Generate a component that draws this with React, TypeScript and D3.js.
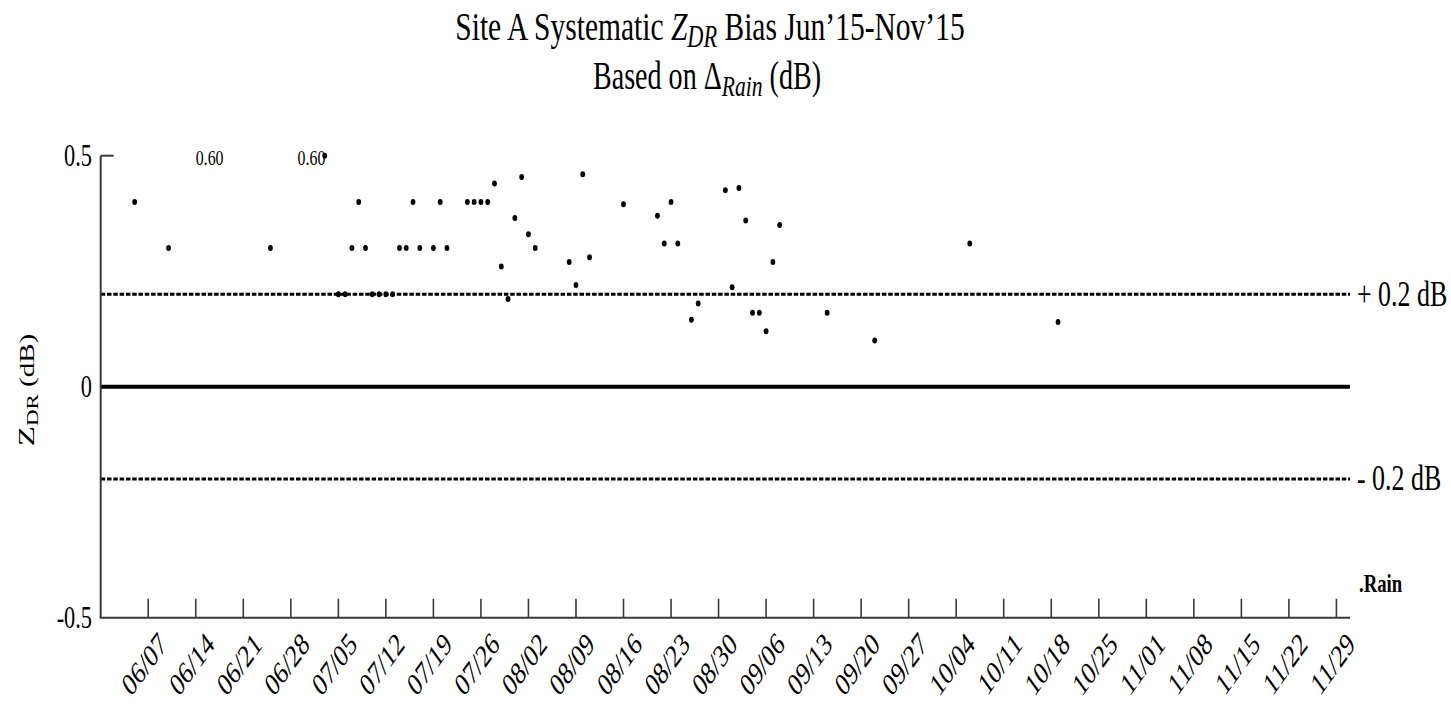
import React from "react";
import * as d3 from "d3";

// Daily systematic ZDR bias estimates (dB), Jun–Nov 2015
const pointDates = [
  "2015-06-05", "2015-06-10", "2015-06-25", "2015-07-03", "2015-07-05", "2015-07-06",
  "2015-07-07", "2015-07-08", "2015-07-09", "2015-07-10", "2015-07-11", "2015-07-12",
  "2015-07-13", "2015-07-14", "2015-07-15", "2015-07-16", "2015-07-17", "2015-07-19",
  "2015-07-20", "2015-07-21", "2015-07-24", "2015-07-25", "2015-07-26", "2015-07-27",
  "2015-07-28", "2015-07-29", "2015-07-30", "2015-07-31", "2015-08-01", "2015-08-02",
  "2015-08-03", "2015-08-08", "2015-08-09", "2015-08-10", "2015-08-11", "2015-08-16",
  "2015-08-21", "2015-08-22", "2015-08-23", "2015-08-24", "2015-08-26", "2015-08-27",
  "2015-08-31", "2015-09-01", "2015-09-02", "2015-09-03", "2015-09-04", "2015-09-05",
  "2015-09-06", "2015-09-07", "2015-09-08", "2015-09-15", "2015-09-22", "2015-10-06",
  "2015-10-19",
];
const zdrBias = [
  0.40, 0.30, 0.30, 0.50, 0.20, 0.20,
  0.30, 0.40, 0.30, 0.20, 0.20, 0.20,
  0.20, 0.30, 0.30, 0.40, 0.30, 0.30,
  0.40, 0.30, 0.40, 0.40, 0.40, 0.40,
  0.44, 0.26, 0.19, 0.365, 0.454, 0.33,
  0.30, 0.27, 0.22, 0.46, 0.28, 0.395,
  0.37, 0.31, 0.40, 0.31, 0.145, 0.18,
  0.425, 0.215, 0.43, 0.36, 0.16, 0.16,
  0.12, 0.27, 0.35, 0.16, 0.10, 0.31,
  0.14,
];

// Off-scale values, written at the top of the axes
const clippedDates = ["2015-06-14", "2015-06-29"];
const clippedLabels = ["0.60", "0.60"];

const tickLabels = [
  "06/07", "06/14", "06/21", "06/28", "07/05", "07/12", "07/19", "07/26", "08/02",
  "08/09", "08/16", "08/23", "08/30", "09/06", "09/13", "09/20", "09/27", "10/04",
  "10/11", "10/18", "10/25", "11/01", "11/08", "11/15", "11/22", "11/29",
];
const yTicks = [0.5, 0, -0.5];
const yTickLabels = ["0.5", "0", "-0.5"];
const thresholds = [0.2, -0.2];
const thresholdLabels = ["+ 0.2 dB", "- 0.2 dB"];

const parse = d3.timeParse("%Y-%m-%d");
const SX = 0.72; // horizontal squeeze of all lettering
const FONT = "'Liberation Serif', 'Times New Roman', serif";

function SText({ x, y, rotate = 0, size, anchor = "start", weight = "normal", baseline, children }: any) {
  return (
    <text
      transform={`translate(${x},${y}) scale(${SX},1) rotate(${rotate})`}
      fontFamily={FONT}
      fontSize={size}
      fontWeight={weight}
      textAnchor={anchor}
      dominantBaseline={baseline}
      fill="#000"
    >
      {children}
    </text>
  );
}

export default function App() {
  const W = 1451;
  const H = 704;
  const left = 100.7;
  const right = 1350;
  const top = 155.7;
  const bottom = 617.7;

  const x = d3
    .scaleTime()
    .domain([parse("2015-05-31")!, parse("2015-12-01")!])
    .range([left, right]);
  const y = d3.scaleLinear().domain([-0.5, 0.5]).range([bottom, top]);

  const tickDates = tickLabels.map((t) => parse(`2015-${t.replace("/", "-")}`)!);

  return (
    <svg
      width={W}
      height={H}
      viewBox={`0 0 ${W} ${H}`}
      style={{ position: "absolute", left: 0, top: 0, background: "#fff" }}
    >
      <rect width={W} height={H} fill="#fff" />

      {/* title */}
      <text
        transform={`translate(710,40) scale(${SX},1)`}
        fontFamily={FONT}
        fontSize={41}
        textAnchor="middle"
      >
        Site A Systematic <tspan fontStyle="italic">Z</tspan>
        <tspan fontStyle="italic" fontSize={31} dy={7}>DR</tspan>
        <tspan dy={-7}> Bias Jun’15-Nov’15</tspan>
      </text>
      <text
        transform={`translate(707,89) scale(${SX},1)`}
        fontFamily={FONT}
        fontSize={39}
        textAnchor="middle"
      >
        Based on Δ<tspan fontStyle="italic" fontSize={30} dy={7}>Rain</tspan>
        <tspan dy={-7}> (dB)</tspan>
      </text>

      {/* threshold lines */}
      {thresholds.map((t) => (
        <line
          key={t}
          x1={left}
          x2={right}
          y1={y(t)}
          y2={y(t)}
          stroke="#000"
          strokeWidth={3}
          strokeDasharray="4.5 1.8"
        />
      ))}
      <line x1={left} x2={right} y1={y(0)} y2={y(0)} stroke="#000" strokeWidth={4} />

      {/* axes */}
      <line x1={left} x2={left} y1={top} y2={bottom} stroke="#3a3a3a" strokeWidth={2} />
      <line x1={left - 1} x2={right} y1={bottom} y2={bottom} stroke="#3a3a3a" strokeWidth={2} />
      <line x1={left} x2={left + 13} y1={y(0.5)} y2={y(0.5)} stroke="#3a3a3a" strokeWidth={2} />
      {tickDates.map((d, i) => (
        <line
          key={i}
          x1={x(d)}
          x2={x(d)}
          y1={bottom}
          y2={bottom - 19}
          stroke="#3a3a3a"
          strokeWidth={1.6}
        />
      ))}

      {/* y tick labels */}
      {yTicks.map((v, i) => (
        <SText key={v} x={92} y={y(v) + 10} size={31} anchor="end">
          {yTickLabels[i]}
        </SText>
      ))}

      {/* x tick labels */}
      {tickDates.map((d, i) => (
        <SText key={i} x={x(d) + 20} y={646} size={32} anchor="end" rotate={-45}>
          {tickLabels[i]}
        </SText>
      ))}

      {/* y axis label */}
      <text
        transform={`translate(34,390) scale(${SX},1) rotate(-90)`}
        fontFamily={FONT}
        fontSize={33}
        textAnchor="middle"
      >
        Z<tspan fontSize={23} dy={6}>DR</tspan>
        <tspan fontSize={29} dy={-6}> (dB)</tspan>
      </text>

      {/* threshold labels */}
      {thresholds.map((t, i) => (
        <SText key={t} x={1357} y={y(t) + 3} size={36} baseline="middle">
          {thresholdLabels[i]}
        </SText>
      ))}
      <SText x={1359} y={592} size={26} weight="bold">
        .Rain
      </SText>

      {/* off-scale annotations */}
      {clippedDates.map((d, i) => (
        <SText key={d} x={x(parse(d)!)} y={y(0.5) + 9} size={22}>
          {clippedLabels[i]}
        </SText>
      ))}

      {/* daily estimates */}
      {pointDates.map((d, i) => (
        <ellipse key={d} cx={x(parse(d)!)} cy={y(zdrBias[i])} rx={2.4} ry={3} fill="#000" />
      ))}
    </svg>
  );
}
